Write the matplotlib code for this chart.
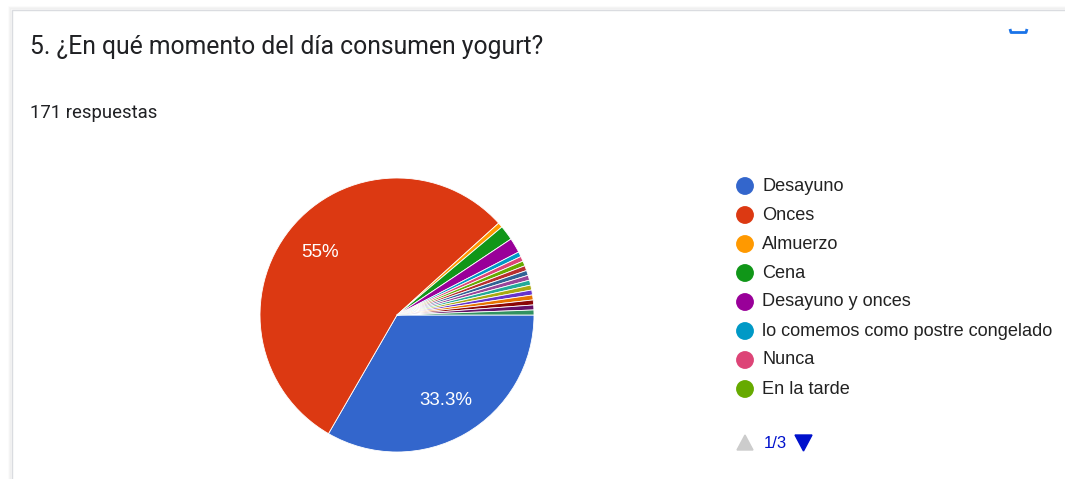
import matplotlib
matplotlib.use("Agg")
import matplotlib.pyplot as plt
from matplotlib.patches import Rectangle, Polygon

# respuestas por momento del día (171 en total)
categorias = ["Desayuno", "Onces", "Almuerzo", "Cena", "Desayuno y onces",
              "lo comemos como postre congelado", "Nunca", "En la tarde",
              "Otro 1", "Otro 2", "Otro 3", "Otro 4", "Otro 5", "Otro 6",
              "Otro 7", "Otro 8", "Otro 9", "Otro 10"]
respuestas = [57, 94, 1, 3, 3, 1, 1, 1, 1, 1, 1, 1, 1, 1, 1, 1, 1, 1]
colores = ["#3366cc", "#dc3912", "#ff9900", "#109618", "#990099", "#0099c6",
           "#dd4477", "#66aa00", "#b82e2e", "#316395", "#994499", "#22aa99",
           "#aaaa11", "#6633cc", "#e67300", "#8b0707", "#651067", "#329262"]
n_leyenda = 8
titulo = "5. ¿En qué momento del día consumen yogurt?"
subtitulo = "171 respuestas"
pagina = "1/3"

W, H = 1065, 479
fig = plt.figure(figsize=(W / 100, H / 100), dpi=100)
ax = fig.add_axes([0, 0, 1, 1])
ax.set_xlim(0, W)
ax.set_ylim(0, H)
ax.set_aspect("equal")
ax.axis("off")

def py(y):
    return H - y

# tarjeta con sombra
for i, a in enumerate([0.04, 0.03, 0.02]):
    ax.add_patch(Rectangle((12 - i - 1, -10), W, py(10) + 10 + i + 1,
                           facecolor="none", edgecolor="#000000", alpha=a, lw=1.2))
ax.add_patch(Rectangle((12, -10), W, py(10) + 10, facecolor="white",
                       edgecolor="#dadce0", lw=1.0))

# icono azul arriba a la derecha
ax.plot([1010, 1011, 1026, 1027], [py(29), py(32.5), py(32.5), py(29)],
        color="#1a73e8", lw=2.0, solid_capstyle="butt")

ax.text(30, py(47), titulo, fontsize=17.8, family="Roboto",
        color="#202124", va="center", ha="left")
ax.text(30, py(113), subtitulo, fontsize=13.3, family="Roboto",
        color="#202124", va="center", ha="left")

def etiqueta(p):
    return (f"{p:.1f}".rstrip("0").rstrip(".") + "%") if p > 5 else ""

wedges, textos, pcts = ax.pie(respuestas, colors=colores, center=(397, py(315)),
                              radius=137, startangle=0, counterclock=False,
                              autopct=etiqueta, pctdistance=0.72,
                              wedgeprops=dict(edgecolor="white", linewidth=0.6),
                              textprops=dict(color="white", fontsize=13.5,
                                             family="Liberation Sans"))
ax.set_xlim(0, W)
ax.set_ylim(0, H)

# leyenda (primera página)
for i in range(n_leyenda):
    y = py(186 + 29 * i)
    ax.scatter([745], [y], s=165, color=colores[i], edgecolors="none")
    ax.text(762, y, categorias[i], fontsize=13.1, family="Liberation Sans",
            color="#222222", va="center", ha="left")

# paginación
yp = py(443)
ax.add_patch(Polygon([[737, yp - 7], [753, yp - 7], [745, yp + 8]],
                     closed=True, color="#cccccc"))
ax.text(764, yp, pagina, fontsize=12, family="Liberation Sans", color="#0011cc",
        va="center", ha="left")
ax.add_patch(Polygon([[795, yp + 8], [812, yp + 8], [803.5, yp - 8]],
                     closed=True, color="#0011cc"))

fig.savefig("out.png", dpi=100)
